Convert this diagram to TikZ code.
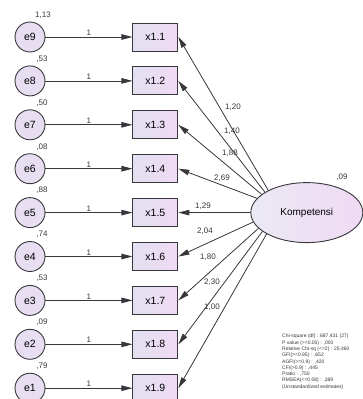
\documentclass[tikz,border=0pt]{standalone}
\usepackage{fontspec}
\setmainfont{Liberation Sans}
\usetikzlibrary{shapes.geometric, arrows.meta, positioning}
\definecolor{lineGray}{RGB}{55,55,60}
\definecolor{errFill}{RGB}{232,222,242}
\definecolor{boxLeft}{RGB}{226,224,240}
\definecolor{boxRight}{RGB}{240,218,244}
\tikzstyle{err_node} = [circle, minimum size=30pt, inner sep=0pt, draw=lineGray, line width=0.9pt, fill=errFill, font=\fontsize{10.5}{12}\selectfont]
\tikzstyle{obs_node} = [rectangle, minimum width=45pt, minimum height=28pt, inner sep=0pt, draw=lineGray, line width=0.9pt, left color=boxLeft, right color=boxRight, font=\fontsize{10.5}{12}\selectfont]
\tikzstyle{lat_node} = [ellipse, minimum width=112pt, minimum height=60pt, inner sep=0pt, draw=lineGray, line width=0.9pt, left color=boxLeft!70!white, right color=boxRight, font=\fontsize{10}{12}\selectfont]
\tikzstyle{path_arrow} = [line width=0.8pt, draw=lineGray, -{Triangle[length=11pt, width=5.5pt]}]
\tikzstyle{num_label} = [font=\fontsize{8}{9}\selectfont, text=lineGray, inner sep=1pt]

\begin{document}
\begin{tikzpicture}[x=1pt, y=-1pt]
\useasboundingbox (0,0) rectangle (363,399);
\clip (0,0) rectangle (363,399);

\node (e9) [err_node] at (30,37) {e9};
\node (e8) [err_node, below=13pt of e9] {e8};
\node (e7) [err_node, below=13pt of e8] {e7};
\node (e6) [err_node, below=13pt of e7] {e6};
\node (e5) [err_node, below=13pt of e6] {e5};
\node (e4) [err_node, below=13pt of e5] {e4};
\node (e3) [err_node, below=13pt of e4] {e3};
\node (e2) [err_node, below=13pt of e3] {e2};
\node (e1) [err_node, below=13pt of e2] {e1};

\node (x11) [obs_node, right=87pt of e9] {x1.1};
\node (x12) [obs_node, right=87pt of e8] {x1.2};
\node (x13) [obs_node, right=87pt of e7] {x1.3};
\node (x14) [obs_node, right=87pt of e6] {x1.4};
\node (x15) [obs_node, right=87pt of e5] {x1.5};
\node (x16) [obs_node, right=87pt of e4] {x1.6};
\node (x17) [obs_node, right=87pt of e3] {x1.7};
\node (x18) [obs_node, right=87pt of e2] {x1.8};
\node (x19) [obs_node, right=87pt of e1] {x1.9};

\node (komp) [lat_node, right=72pt of x15] {Kompetensi};
\node (komp_var) [num_label] at (342,177) {,09};

% error variances
\node (v9) [num_label, above=2pt of e9.north, xshift=13pt] {1,13};
\node (v8) [num_label, above=2pt of e8.north, xshift=12pt] {,53};
\node (v7) [num_label, above=2pt of e7.north, xshift=12pt] {,50};
\node (v6) [num_label, above=2pt of e6.north, xshift=12pt] {,08};
\node (v5) [num_label, above=2pt of e5.north, xshift=12pt] {,88};
\node (v4) [num_label, above=2pt of e4.north, xshift=12pt] {,74};
\node (v3) [num_label, above=2pt of e3.north, xshift=12pt] {,53};
\node (v2) [num_label, above=2pt of e2.north, xshift=12pt] {,09};
\node (v1) [num_label, above=2pt of e1.north, xshift=12pt] {,79};

\draw [path_arrow] (e9) -- node[above, num_label] {1} (x11);
\draw [path_arrow] (e8) -- node[above, num_label] {1} (x12);
\draw [path_arrow] (e7) -- node[above, num_label] {1} (x13);
\draw [path_arrow] (e6) -- node[above, num_label] {1} (x14);
\draw [path_arrow] (e5) -- node[above, num_label] {1} (x15);
\draw [path_arrow] (e4) -- node[above, num_label] {1} (x16);
\draw [path_arrow] (e3) -- node[above, num_label] {1} (x17);
\draw [path_arrow] (e2) -- node[above, num_label] {1} (x18);
\draw [path_arrow] (e1) -- node[above, num_label] {1} (x19);

\draw [path_arrow] (komp.150) -- (x11.east);
\draw [path_arrow] (komp.154) -- (x12.east);
\draw [path_arrow] (komp.158) -- (x13.east);
\draw [path_arrow] (komp.164) -- (x14.east);
\draw [path_arrow] (komp.180) -- (x15.east);
\draw [path_arrow] (komp.190) -- (x16.east);
\draw [path_arrow] (komp.198) -- (x17.east);
\draw [path_arrow] (komp.203) -- (x18.east);
\draw [path_arrow] (komp.208) -- (x19.east);

% loadings
\node (l1) [num_label] at (233,107) {1,20};
\node (l2) [num_label] at (232,131) {1,40};
\node (l3) [num_label] at (230,153) {1,88};
\node (l4) [num_label] at (222,178) {2,69};
\node (l5) [num_label] at (203,206) {1,29};
\node (l6) [num_label] at (205,231) {2,04};
\node (l7) [num_label] at (208,257) {1,80};
\node (l8) [num_label] at (212,282) {2,30};
\node (l9) [num_label] at (212,307) {1,00};

\node (fit_info) [anchor=north west, align=left, inner sep=0pt, text=lineGray, font=\fontsize{5}{6.3}\selectfont] at (282,334) {Chi-square (df) : 687,431 (27)\\P value (>=0.05) : ,000\\Relative Chi-sq (<=2) : 25,460\\GFI(>=0.95) : ,652\\AGFI(>=0.9) : ,420\\CFI(>0.9) : ,445\\Pratio : ,750\\RMSEA(<=0.08) : ,389\\(Unstandardized estimates)};
\end{tikzpicture}
\end{document}
